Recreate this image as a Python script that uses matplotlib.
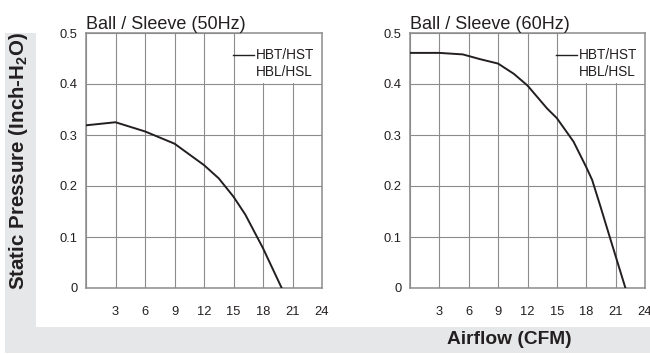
import matplotlib
matplotlib.use("Agg")
from matplotlib import pyplot as plt
from matplotlib.patches import Rectangle
from matplotlib.lines import Line2D

plt.rcParams['font.family'] = ['Liberation Sans', 'DejaVu Sans']
plt.rcParams['mathtext.fontset'] = 'custom'
plt.rcParams['mathtext.rm'] = 'Liberation Sans:bold'

# airflow (CFM) vs static pressure (inch-H2O)
flow_50 = [0, 3, 6, 9, 12, 13.5, 15, 16.2, 18, 19.9]
press_50 = [0.319, 0.325, 0.307, 0.283, 0.241, 0.215, 0.179, 0.144, 0.078, 0.0]

flow_60 = [0, 3, 5.4, 7.1, 9, 10.6, 12, 14, 15, 16.7, 18, 18.6, 19.4, 20.4, 22]
press_60 = [0.461, 0.461, 0.458, 0.449, 0.440, 0.420, 0.397, 0.352, 0.333, 0.287,
            0.237, 0.212, 0.163, 0.100, 0.0]

titles = ["Ball / Sleeve (50Hz)", "Ball / Sleeve (60Hz)"]
x_ticks = [3, 6, 9, 12, 15, 18, 21, 24]
y_ticks = [0, 0.1, 0.2, 0.3, 0.4, 0.5]
y_labels = ["0", "0.1", "0.2", "0.3", "0.4", "0.5"]
legend_labels = ["HBT/HST", "HBL/HSL"]

ink = "#231f20"
grid_c = "#8c8c8c"
band = "#e6e7e8"

fig = plt.figure(figsize=(6.5, 3.54), dpi=100)

# grey L-shaped band behind the axis titles
fig.patches.append(Rectangle((5/650, 1/354), 31/650, 320/354, transform=fig.transFigure,
                             facecolor=band, edgecolor="none", zorder=0))
fig.patches.append(Rectangle((5/650, 1/354), 645/650, 26/354, transform=fig.transFigure,
                             facecolor=band, edgecolor="none", zorder=0))

def panel(rect, xs, ys, title):
	ax = fig.add_axes(rect)
	ax.set_xlim(0, 24)
	ax.set_ylim(0, 0.5)
	ax.set_xticks([0] + x_ticks)
	ax.set_xticklabels([""] + [str(t) for t in x_ticks])
	ax.set_yticks(y_ticks)
	ax.set_yticklabels(y_labels)
	ax.tick_params(length=0, labelsize=9.3, colors=ink)
	ax.tick_params(axis="x", pad=13)
	ax.tick_params(axis="y", pad=6)
	ax.set_axisbelow(True)
	ax.grid(True, color=grid_c, linewidth=0.8)
	for s in ax.spines.values():
		s.set_color(grid_c)
		s.set_linewidth(1.1)
	ax.set_title(title, loc="left", fontsize=13, color=ink, pad=3)
	# white box behind the legend
	ax.add_patch(Rectangle((0.655, 0.803), 0.345, 0.197, transform=ax.transAxes,
	                       facecolor="white", edgecolor="none", zorder=1))
	ax.plot(xs, ys, color=ink, linewidth=1.4, zorder=3)
	handles = [Line2D([], [], color=ink, linewidth=1.0), Line2D([], [], color="none")]
	leg = ax.legend(handles, legend_labels, loc="upper right", bbox_to_anchor=(1.0, 0.972),
	                frameon=False, fontsize=9.8,
	                handlelength=1.55, handletextpad=0.1, labelspacing=0.2,
	                borderaxespad=0.2, borderpad=0.4)
	for t in leg.get_texts():
		t.set_color(ink)
	return ax

panel([86/650, 66/354, 236/650, 255/354], flow_50, press_50, titles[0])
panel([410/650, 66/354, 235/650, 255/354], flow_60, press_60, titles[1])

fig.text(19/650, 193/354, r"Static Pressure (Inch-H$_\mathrm{2}$O)", rotation=90,
         ha="center", va="center", fontsize=14.8, fontweight="bold", color=ink)
fig.text(509/650, 14/354, "Airflow (CFM)", ha="center", va="center",
         fontsize=13.8, fontweight="bold", color=ink)

plt.savefig("out.png", dpi=100)
